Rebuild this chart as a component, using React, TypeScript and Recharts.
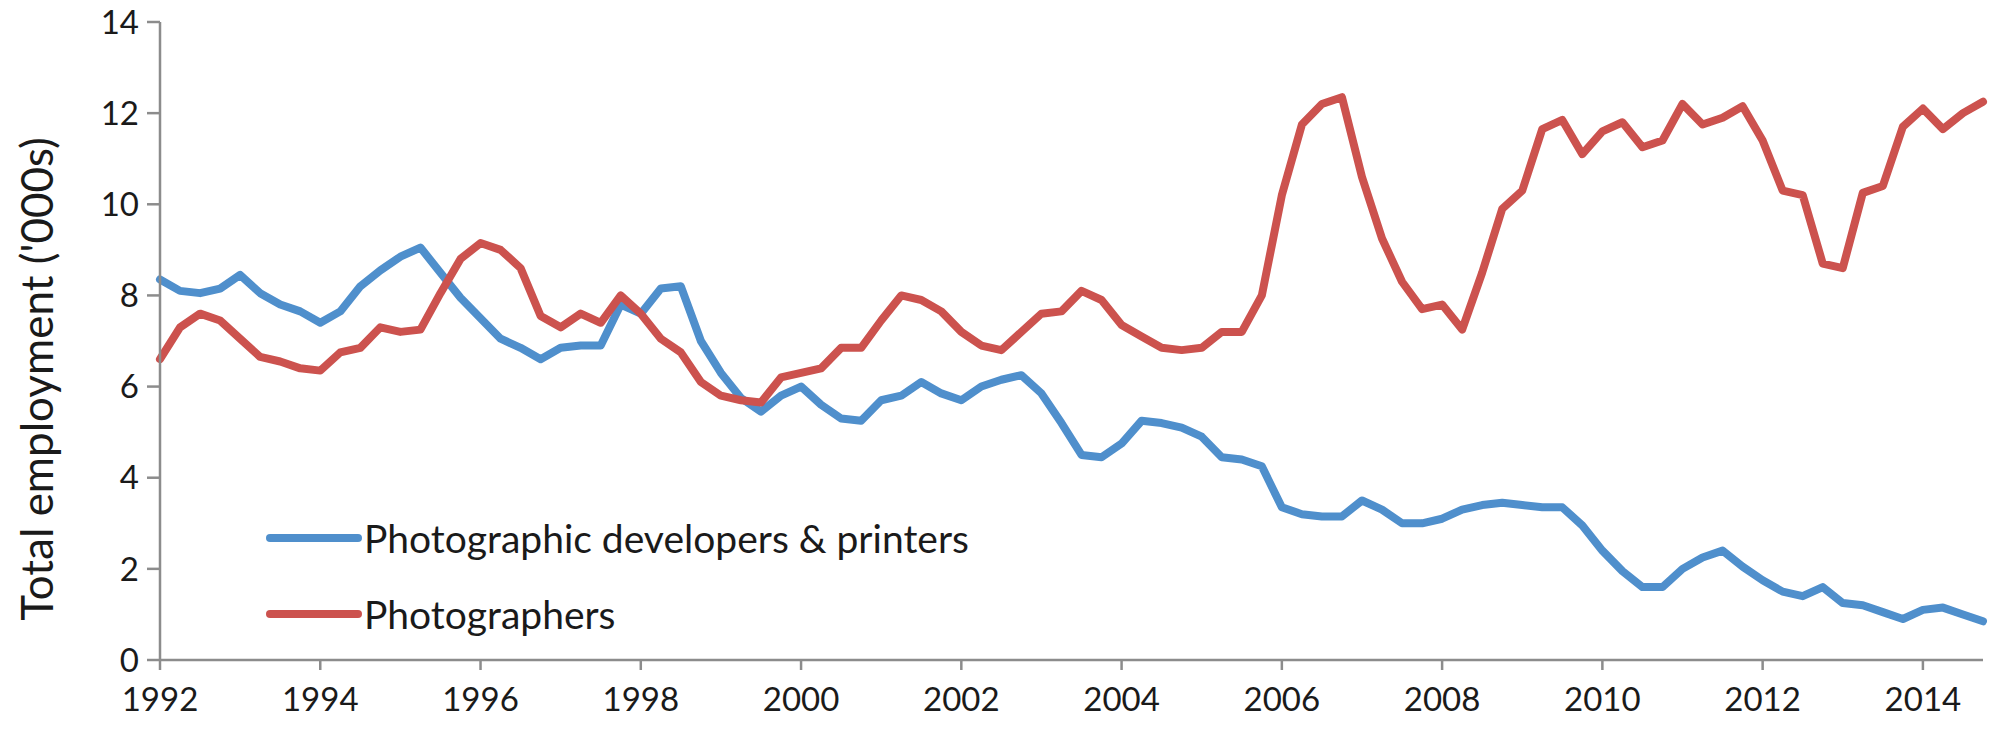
import { LineChart, Line, XAxis, YAxis } from 'recharts';

// quarterly observations, 1992 Q1 .. 2014 Q4
const quarters = Array.from({ length: 92 }, (_, i) => 1992 + i / 4);

const developers = [
    8.35, 8.1, 8.05, 8.15,
    8.45, 8.05, 7.8, 7.65,
    7.4, 7.65, 8.2, 8.55,
    8.85, 9.05, 8.5, 7.95,
    7.5, 7.05, 6.85, 6.6,
    6.85, 6.9, 6.9, 7.8,
    7.6, 8.15, 8.2, 7.0,
    6.3, 5.75, 5.45, 5.8,
    6.0, 5.6, 5.3, 5.25,
    5.7, 5.8, 6.1, 5.85,
    5.7, 6.0, 6.15, 6.25,
    5.85, 5.2, 4.5, 4.45,
    4.75, 5.25, 5.2, 5.1,
    4.9, 4.45, 4.4, 4.25,
    3.35, 3.2, 3.15, 3.15,
    3.5, 3.3, 3.0, 3.0,
    3.1, 3.3, 3.4, 3.45,
    3.4, 3.35, 3.35, 2.95,
    2.4, 1.95, 1.6, 1.6,
    2.0, 2.25, 2.4, 2.05,
    1.75, 1.5, 1.4, 1.6,
    1.25, 1.2, 1.05, 0.9,
    1.1, 1.15, 1.0, 0.85,
];

const photographers = [
    6.6, 7.3, 7.6, 7.45,
    7.05, 6.65, 6.55, 6.4,
    6.35, 6.75, 6.85, 7.3,
    7.2, 7.25, 8.05, 8.8,
    9.15, 9.0, 8.6, 7.55,
    7.3, 7.6, 7.4, 8.0,
    7.6, 7.05, 6.75, 6.1,
    5.8, 5.7, 5.65, 6.2,
    6.3, 6.4, 6.85, 6.85,
    7.45, 8.0, 7.9, 7.65,
    7.2, 6.9, 6.8, 7.2,
    7.6, 7.65, 8.1, 7.9,
    7.35, 7.1, 6.85, 6.8,
    6.85, 7.2, 7.2, 8.0,
    10.2, 11.75, 12.2, 12.35,
    10.6, 9.25, 8.3, 7.7,
    7.8, 7.25, 8.5, 9.9,
    10.3, 11.65, 11.85, 11.1,
    11.6, 11.8, 11.25, 11.4,
    12.2, 11.75, 11.9, 12.15,
    11.4, 10.3, 10.2, 8.7,
    8.6, 10.25, 10.4, 11.7,
    12.1, 11.65, 12.0, 12.25,
];

const yearTicks = [1992, 1994, 1996, 1998, 2000, 2002, 2004, 2006, 2008, 2010, 2012, 2014];
const valueTicks = [0, 2, 4, 6, 8, 10, 12, 14];

const series = [
    { key: 'dev', name: 'Photographic developers & printers', color: '#4f8fcc' },
    { key: 'photo', name: 'Photographers', color: '#cc524e' },
];

const FONT = 'Lato, "Open Sans", sans-serif';
const AXIS = '#8c8c8c';

const data = quarters.map((t, i) => ({ t, dev: developers[i], photo: photographers[i] }));

function YTitle(props: any) {
    const vb = props.viewBox || {};
    const x = 36;
    const y = vb.y + vb.height / 2 + 38;
    return (
        <text x={x} y={y} transform={`rotate(-90, ${x}, ${y})`} textAnchor="middle"
            dominantBaseline="central" fontFamily={FONT} fontSize={44} fill="#1a1a1a">
            Total employment ('000s)
        </text>
    );
}

function LegendBox() {
    return (
        <div style={{ position: 'absolute', left: 266, top: 500, fontFamily: FONT, fontSize: 39, color: '#1a1a1a' }}>
            {series.map((s) => (
                <div key={s.key} style={{ display: 'flex', alignItems: 'center', height: 76 }}>
                    <svg width={96} height={12} style={{ marginRight: 2 }}>
                        <line x1={4} y1={6} x2={92} y2={6} stroke={s.color} strokeWidth={8} strokeLinecap="round" />
                    </svg>
                    <span style={{ whiteSpace: 'nowrap' }}>{s.name}</span>
                </div>
            ))}
        </div>
    );
}

export default function App() {
    return (
        <div style={{ position: 'absolute', left: 0, top: 0, width: 1997, height: 738, background: '#fff' }}>
            <LineChart width={1997} height={738} data={data}
                margin={{ top: 22, right: 14, left: 0, bottom: 0 }}>
                <XAxis dataKey="t" type="number" domain={[1992, 2014.75]} ticks={yearTicks} height={78}
                    stroke={AXIS} strokeWidth={2.5} tickSize={10} tickMargin={18}
                    tick={{ fontSize: 33, fontFamily: FONT, fill: '#1a1a1a' }} />
                <YAxis domain={[0, 14]} ticks={valueTicks} width={160}
                    stroke={AXIS} strokeWidth={2.5} tickSize={13} tickMargin={8}
                    tick={{ fontSize: 33, fontFamily: FONT, fill: '#1a1a1a' }}
                    label={{ content: YTitle }} />
                {series.map((s) => (
                    <Line key={s.key} dataKey={s.key} name={s.name} stroke={s.color} strokeWidth={8}
                        strokeLinejoin="round" strokeLinecap="round" dot={false} isAnimationActive={false} />
                ))}
            </LineChart>
            <LegendBox />
        </div>
    );
}
